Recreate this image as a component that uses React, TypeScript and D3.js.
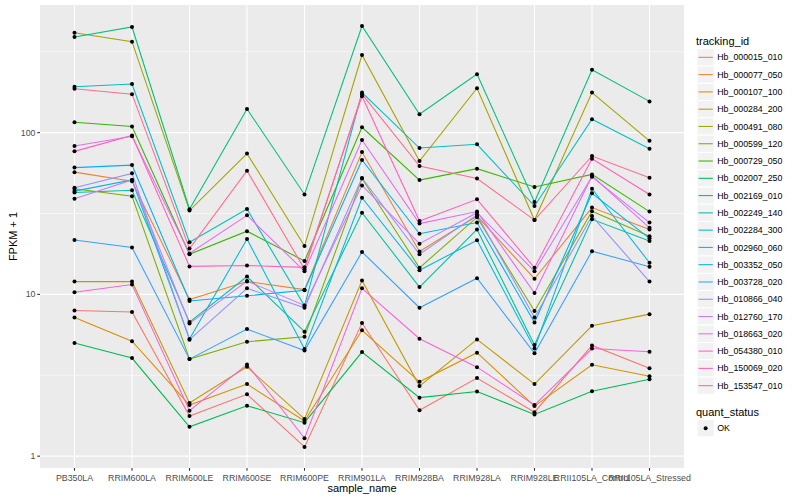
import * as d3 from "d3";

const samples = [
  "PB350LA",
  "RRIM600LA",
  "RRIM600LE",
  "RRIM600SE",
  "RRIM600PE",
  "RRIM901LA",
  "RRIM928BA",
  "RRIM928LA",
  "RRIM928LE",
  "RRII105LA_Control",
  "RRII105LA_Stressed",
];

const trackingIds = [
  "Hb_000015_010",
  "Hb_000077_050",
  "Hb_000107_100",
  "Hb_000284_200",
  "Hb_000491_080",
  "Hb_000599_120",
  "Hb_000729_050",
  "Hb_002007_250",
  "Hb_002169_010",
  "Hb_002249_140",
  "Hb_002284_300",
  "Hb_002960_060",
  "Hb_003352_050",
  "Hb_003728_020",
  "Hb_010866_040",
  "Hb_012760_170",
  "Hb_018663_020",
  "Hb_054380_010",
  "Hb_150069_020",
  "Hb_153547_010",
];

// FPKM + 1, one array per gene, in sample order
const hb000015_010 = [7.96, 7.78, 1.77, 2.41, 1.14, 6.65, 1.92, 3.04, 1.87, 4.84, 3.49];
const hb000077_050 = [57, 50, 9.3, 12.0, 10.7, 75.8, 18.4, 30.5, 12.5, 34.4, 25.2];
const hb000107_100 = [7.2, 5.14, 2.07, 2.79, 1.65, 6.0, 2.88, 4.36, 2.04, 3.67, 3.12];
const hb000284_200 = [12.0, 12.0, 2.13, 3.57, 1.7, 12.2, 2.71, 5.27, 2.79, 6.4, 7.55];
const hb000491_080 = [415, 365, 33.0, 74.2, 19.9, 302, 66.7, 188, 28.8, 177, 89];
const hb000599_120 = [45, 40.5, 3.98, 5.1, 5.47, 52, 14.6, 30, 7.9, 32.7, 22.9];
const hb000729_050 = [116, 109, 17.7, 24.6, 16.1, 108, 50.9, 59.9, 46.1, 55.2, 32.5];
const hb002007_250 = [5.0, 4.04, 1.52, 2.05, 1.61, 4.4, 2.3, 2.51, 1.81, 2.52, 2.99];
const hb002169_010 = [390, 450, 33.6, 140, 41.5, 456, 130, 230, 37.3, 245, 156];
const hb002249_140 = [42.6, 44, 6.74, 12.9, 5.88, 32, 11.1, 25.2, 4.86, 29.1, 21.4];
const hb002284_300 = [192, 200, 21, 33.7, 8.5, 177, 80.3, 84.7, 35.2, 121, 79.6];
const hb002960_060 = [43.5, 51, 5.3, 22, 4.6, 39.6, 14.1, 21.6, 4.63, 45, 15.7];
const hb003352_050 = [60.8, 63, 9.1, 9.8, 10.6, 67.7, 23.7, 27.8, 6.7, 42.2, 22.2];
const hb003728_020 = [21.7, 19.5, 3.98, 6.1, 4.5, 18.3, 8.27, 12.6, 4.32, 18.5, 14.8];
const hb010866_040 = [45.7, 56, 5.25, 10.9, 8.27, 52.4, 17.7, 31, 7.2, 30.5, 12];
const hb012760_170 = [39, 51, 6.62, 12.1, 8.55, 47.2, 20.6, 32, 13.9, 53.4, 27.8];
const hb018663_020 = [82.6, 95, 17.9, 30.8, 13.9, 90, 27.4, 32.5, 10.2, 54, 25.8];
const hb054380_010 = [10.3, 11.5, 1.91, 3.69, 1.29, 10.9, 5.32, 3.55, 2.07, 4.63, 4.42];
const hb150069_020 = [76.6, 96, 14.9, 15.1, 14.7, 168, 28.4, 38.7, 14.6, 69, 41.5];
const hb153547_010 = [187, 173, 19.2, 58.2, 14.3, 173, 62.1, 52, 28.8, 71.7, 52.7];

const series = [
  hb000015_010, hb000077_050, hb000107_100, hb000284_200, hb000491_080,
  hb000599_120, hb000729_050, hb002007_250, hb002169_010, hb002249_140,
  hb002284_300, hb002960_060, hb003352_050, hb003728_020, hb010866_040,
  hb012760_170, hb018663_020, hb054380_010, hb150069_020, hb153547_010,
];

const yTicks = [1, 10, 100];
const yMinor = [Math.sqrt(10), Math.sqrt(1000), Math.sqrt(100000)];

// ggplot default hue palette for 20 levels
const palette = [
  "#F8766D", "#EA8331", "#D89000", "#C09B00", "#A3A500",
  "#7CAE00", "#39B600", "#00BB4E", "#00BF7D", "#00C1A3",
  "#00BFC4", "#00BAE0", "#00B0F6", "#35A2FF", "#9590FF",
  "#C77CFF", "#E76BF3", "#FA62DB", "#FF62BC", "#FF6C91",
];

const width = 800;
const height = 500;
const panel = { left: 40, right: 684, top: 5, bottom: 468 };
const font = "'Liberation Sans', Arial, Helvetica, sans-serif";

export default function App() {
  const x = d3
    .scalePoint<string>()
    .domain(samples)
    .range([panel.left, panel.right])
    .padding(0.6);

  // log scale with ggplot's 5% expansion of the data range
  const logs = series.flat().map((v) => Math.log10(v));
  const [lo, hi] = d3.extent(logs) as [number, number];
  const pad = (hi - lo) * 0.05;
  const y = d3
    .scaleLog()
    .domain([Math.pow(10, lo - pad), Math.pow(10, hi + pad)])
    .range([panel.bottom, panel.top]);

  const line = d3
    .line<number>()
    .x((_, i) => x(samples[i])!)
    .y((d) => y(d));

  const legendX = 696;
  const keyTop = 48.7;
  const keySize = 17.28;

  return (
    <svg
      width={width}
      height={height}
      style={{ position: "absolute", left: 0, top: 0, background: "#fff" }}
      fontFamily={font}
    >
      <rect
        x={panel.left}
        y={panel.top}
        width={panel.right - panel.left}
        height={panel.bottom - panel.top}
        fill="#EBEBEB"
      />
      {yMinor.map((t) => (
        <line key={"m" + t} x1={panel.left} x2={panel.right} y1={y(t)} y2={y(t)} stroke="#fff" strokeWidth={0.55} />
      ))}
      {yTicks.map((t) => (
        <line key={"g" + t} x1={panel.left} x2={panel.right} y1={y(t)} y2={y(t)} stroke="#fff" strokeWidth={1.07} />
      ))}
      {samples.map((s) => (
        <line key={"v" + s} x1={x(s)} x2={x(s)} y1={panel.top} y2={panel.bottom} stroke="#fff" strokeWidth={1.07} />
      ))}

      {series.map((vals, i) => (
        <path key={trackingIds[i]} d={line(vals)!} fill="none" stroke={palette[i]} strokeWidth={1.07} />
      ))}
      {series.map((vals, i) =>
        vals.map((v, j) => (
          <circle key={trackingIds[i] + j} cx={x(samples[j])} cy={y(v)} r={2} fill="#000" />
        ))
      )}

      {/* y axis */}
      {yTicks.map((t) => (
        <g key={"yt" + t}>
          <line x1={panel.left - 2.75} x2={panel.left} y1={y(t)} y2={y(t)} stroke="#333" strokeWidth={1.07} />
          <text x={panel.left - 4.5} y={y(t)} dy="0.35em" textAnchor="end" fontSize={8.8} fill="#4D4D4D">
            {t}
          </text>
        </g>
      ))}
      {/* x axis */}
      {samples.map((s) => (
        <g key={"xt" + s}>
          <line x1={x(s)} x2={x(s)} y1={panel.bottom} y2={panel.bottom + 2.75} stroke="#333" strokeWidth={1.07} />
          <text x={x(s)} y={480.5} textAnchor="middle" fontSize={8.8} fill="#4D4D4D">
            {s}
          </text>
        </g>
      ))}
      <text x={(panel.left + panel.right) / 2} y={492} textAnchor="middle" fontSize={11} fill="#000">
        sample_name
      </text>
      <text
        transform={`translate(16.5,${(panel.top + panel.bottom) / 2}) rotate(-90)`}
        textAnchor="middle"
        fontSize={11}
        fill="#000"
      >
        FPKM + 1
      </text>

      {/* legend: tracking_id */}
      <text x={legendX} y={44.5} fontSize={11} fill="#000">
        tracking_id
      </text>
      {trackingIds.map((id, i) => {
        const top = keyTop + i * keySize;
        return (
          <g key={"lg" + id}>
            <rect x={legendX + 1} y={top} width={keySize} height={keySize} fill="#F2F2F2" stroke="#fff" strokeWidth={1} />
            <line
              x1={legendX + 2.5}
              x2={legendX + keySize - 0.5}
              y1={top + keySize / 2}
              y2={top + keySize / 2}
              stroke={palette[i]}
              strokeWidth={1.07}
            />
            <text x={legendX + keySize + 4} y={top + keySize / 2} dy="0.35em" fontSize={8.8} fill="#000">
              {id}
            </text>
          </g>
        );
      })}

      {/* legend: quant_status */}
      <text x={legendX} y={415.5} fontSize={11} fill="#000">
        quant_status
      </text>
      <rect x={legendX + 1} y={419.6} width={keySize} height={keySize} fill="#F2F2F2" stroke="#fff" strokeWidth={1} />
      <circle cx={legendX + 1 + keySize / 2} cy={419.6 + keySize / 2} r={2} fill="#000" />
      <text x={legendX + keySize + 4} y={419.6 + keySize / 2} dy="0.35em" fontSize={8.8} fill="#000">
        OK
      </text>
    </svg>
  );
}
